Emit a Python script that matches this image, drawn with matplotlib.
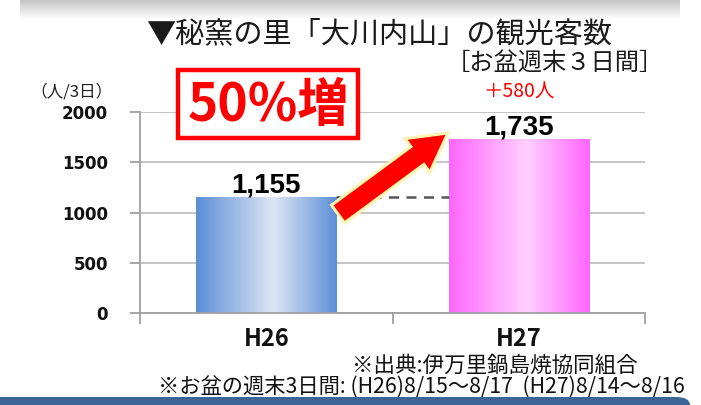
import matplotlib
matplotlib.use("Agg")
import matplotlib.pyplot as plt
import numpy as np
from matplotlib.patches import Rectangle, Polygon, FancyBboxPatch
from matplotlib.colors import LinearSegmentedColormap

plt.rcParams['font.family'] = ['Noto Sans CJK JP', 'DejaVu Sans']

categories = ["H26", "H27"]
values = [1155, 1735]
value_labels = ["1,155", "1,735"]
yticks = [0, 500, 1000, 1500, 2000]
title = "▼秘窯の里「大川内山」の観光客数"
subtitle = "［お盆週末３日間］"
unit_label = "（人/3日）"
increase_label = "＋580人"
badge = "50%増"
note1 = "※出典:伊万里鍋島焼協同組合"
note2 = "※お盆の週末3日間: (H26)8/15～8/17  (H27)8/14～8/16"

W, H = 701, 405
fig = plt.figure(figsize=(W / 100, H / 100), dpi=100)

def px(x, y):
    return (x / W, 1 - y / H)

ax = fig.add_axes([140 / W, 1 - 313 / H, (645 - 140) / W, (313 - 112) / H])
ax.set_xlim(-0.5, 1.5)
ax.set_ylim(0, 2000)
ax.set_yticks(yticks)
ax.set_yticklabels([str(v) for v in yticks], fontsize=12, fontweight='bold',
                   family=['DejaVu Sans'], color='#111111')
ax.set_xticks(range(len(categories)))
ax.set_xticklabels(categories, fontsize=17, fontweight='bold', color='#111111')
ax.set_xticks([-0.5, 0.5, 1.5], minor=True)
ax.tick_params(axis='x', which='major', length=0, pad=10)
ax.tick_params(axis='x', which='minor', length=8, color='#a0a0a0', width=1.3)
ax.tick_params(axis='y', length=7, color='#a0a0a0', width=1.3, pad=16)
for s in ['top', 'right']:
    ax.spines[s].set_visible(False)
for s in ['left', 'bottom']:
    ax.spines[s].set_color('#a0a0a0')
    ax.spines[s].set_linewidth(1.3)
ax.yaxis.grid(True, color='#c4c4c4', linewidth=1.4)
ax.set_axisbelow(True)

bars = ax.bar(range(len(categories)), values, width=0.555, color='none', zorder=2)

cmaps = [
    LinearSegmentedColormap.from_list('b', [(0, '#5b8ed6'), (0.55, '#dde7f3'), (1, '#5b8fd8')]),
    LinearSegmentedColormap.from_list('p', [(0, '#ff66ff'), (0.55, '#ffd0ff'), (1, '#ff66ff')]),
]
grad = np.linspace(0, 1, 256).reshape(1, -1)
for b, cm in zip(bars, cmaps):
    x0, w, h = b.get_x(), b.get_width(), b.get_height()
    im = ax.imshow(grad, cmap=cm, aspect='auto', extent=(x0, x0 + w, 0, h), zorder=2)
    im.set_clip_path(b)

for b, lab in zip(bars, value_labels):
    ax.text(b.get_x() + b.get_width() / 2, b.get_height() + 40, lab,
            ha='center', va='baseline', fontsize=20, fontweight='bold',
            family=['Liberation Sans', 'DejaVu Sans'], color='#000000', zorder=4)

# dashed reference line at previous level
ax.plot([bars[0].get_x() + bars[0].get_width(), bars[1].get_x()], [values[0], values[0]],
        linestyle=(0, (4, 3)), color='#555555', linewidth=1.8, zorder=3)

ax.text(1, 2195, increase_label, ha='center', va='center', fontsize=14,
        color='#ff0000', zorder=4, clip_on=False)
ax.set_xlim(-0.5, 1.5)

# arrow polygon (pixel coords)
tail = np.array([338, 214.0])
tip = np.array([448, 133.0])
d = tip - tail
L = np.hypot(*d)
u = d / L
n = np.array([-u[1], u[0]])
sw, hw, hl = 11, 21, 38
base = tip - u * hl
pts = [tail + n * sw, base + n * sw, base + n * hw, tip, base - n * hw, base - n * sw, tail - n * sw]
pts = [px(*p) for p in pts]
fig.patches.append(Polygon(pts, closed=True, transform=fig.transFigure, facecolor='#ff0000',
                           edgecolor='#fff5b0', linewidth=2.2, zorder=5, joinstyle='miter'))

# badge
fig.patches.append(Rectangle(px(178, 138), (358 - 178) / W, (138 - 70) / H, transform=fig.transFigure,
                             facecolor='white', edgecolor='#ff0000', linewidth=3.2, zorder=5))
fig.text(*px(268, 105), badge, ha='center', va='center', fontsize=37, fontweight='bold',
         color='#ff0000', zorder=6)

# titles
fig.text(*px(379, 34), title, ha='center', va='center', fontsize=21, color='#1a1a1a')
fig.text(*px(555, 64), subtitle, ha='center', va='center', fontsize=17.5, color='#1a1a1a')
fig.text(*px(71, 92), unit_label, ha='center', va='center', fontsize=12, color='#222222')

# notes
fig.text(*px(638, 366), note1, ha='right', va='center', fontsize=15.5, color='#111111')
fig.text(*px(685, 388), note2, ha='right', va='center', fontsize=15.3, color='#111111')

# top blurred strip
strip = np.linspace(0.55, 1, 20).reshape(-1, 1)
fig.figimage(np.repeat(strip, 660, 1), xo=20, yo=H - 20, cmap='gray', vmin=0, vmax=1,
             alpha=0.5, zorder=0)

# bottom blue band
fig.patches.append(FancyBboxPatch(px(-20, 405 + 10), (690 + 20) / W, 18 / H,
                                  boxstyle='round,pad=0,rounding_size=0.02', transform=fig.transFigure,
                                  facecolor='#3c6494', edgecolor='none', zorder=1))

fig.savefig('out.png', dpi=100)
